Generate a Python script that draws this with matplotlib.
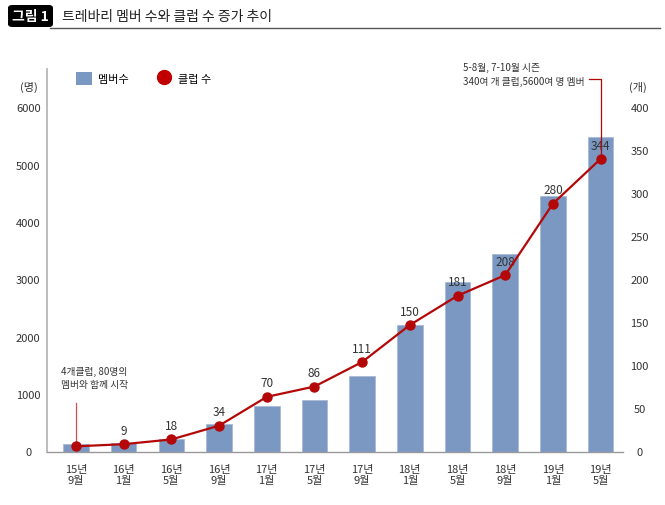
import matplotlib
matplotlib.use("Agg")
import matplotlib.pyplot as plt
from matplotlib.lines import Line2D
from matplotlib.patches import FancyBboxPatch, Patch

plt.rcParams["font.family"] = ["Liberation Sans Narrow", "Noto Sans CJK KR", "DejaVu Sans"]

# ------------------------------------------------------------------ data
periods = ["15년\n9월", "16년\n1월", "16년\n5월", "16년\n9월", "17년\n1월", "17년\n5월",
           "17년\n9월", "18년\n1월", "18년\n5월", "18년\n9월", "19년\n1월", "19년\n5월"]
members = [130, 140, 220, 475, 785, 890, 1310, 2210, 2950, 3440, 4460, 5490]
clubs = [6, 8.5, 14, 30, 63.5, 75.5, 104, 147, 181, 205, 288, 340]
club_labels = ["", "9", "18", "34", "70", "86", "111", "150", "181", "208", "280", "344"]
left_ticks = [0, 1000, 2000, 3000, 4000, 5000, 6000]
right_ticks = [0, 50, 100, 150, 200, 250, 300, 350, 400]

BAR = "#7b98c2"
RED = "#b40808"
W, H = 665, 506

fig = plt.figure(figsize=(W / 100, H / 100), dpi=100)
ax = fig.add_axes([47 / W, 1 - 452.5 / H, (623 - 47) / W, (452.5 - 70) / H])
ax2 = ax.twinx()

x = list(range(len(periods)))
ax.bar(x, members, width=0.535, color=BAR, edgecolor="#a8bad6", linewidth=0.6, zorder=2)
ax.set_xlim(-0.608, 11.47)
ax.set_ylim(0, 6667)
ax2.set_ylim(0, 444.5)

ax2.plot(x, clubs, color=RED, lw=1.6, marker="o", ms=6.5, zorder=4)
for xi, yi, lab in zip(x, clubs, club_labels):
    if lab:
        ax2.annotate(lab, (xi, yi), xytext=(0, 10), textcoords="offset points",
                     ha="center", va="center", fontsize=8.5, color="#333333")

# spines / ticks
for a in (ax, ax2):
    for s in ("top", "right"):
        a.spines[s].set_visible(False)
ax2.spines["left"].set_visible(False)
ax2.spines["bottom"].set_visible(False)
ax.spines["left"].set_color("#b8b8b8")
ax.spines["left"].set_linewidth(1.3)
ax.spines["bottom"].set_color("#9a9a9a")
ax.spines["bottom"].set_linewidth(1.0)

ax.set_yticks(left_ticks)
ax.set_yticklabels([str(t) for t in left_ticks])
ax.tick_params(axis="y", length=0, pad=13.5, labelsize=8, labelcolor="#333333")
for t in ax.get_yticklabels():
    t.set_horizontalalignment("center")
ax2.set_yticks(right_ticks)
ax2.set_yticklabels([str(t) for t in right_ticks])
ax2.tick_params(axis="y", length=0, pad=12, labelsize=8, labelcolor="#333333")
for t in ax2.get_yticklabels():
    t.set_horizontalalignment("center")
ax.set_xticks(x)
ax.set_xticklabels(periods, linespacing=1.15)
ax.tick_params(axis="x", length=0, pad=9, labelsize=8, labelcolor="#333333")

# unit labels
fig.text(29 / W, 1 - 87 / H, "(명)", ha="center", va="center", fontsize=8, color="#333333")
fig.text(638 / W, 1 - 87 / H, "(개)", ha="center", va="center", fontsize=8, color="#333333")

# legend
handles = [Patch(facecolor=BAR, edgecolor="none"),
           Line2D([], [], ls="", marker="o", ms=10, color="#c00000")]
ax.legend(handles, ["멤버수", "클럽 수"], loc="center left", ncol=2, frameon=False,
          bbox_to_anchor=(76 / W, 1 - 79.5 / H), bbox_transform=fig.transFigure,
          fontsize=8, handlelength=1.45, handleheight=1.35, handletextpad=0.55,
          columnspacing=2.4, borderpad=0, borderaxespad=0)

# annotations
ax2.plot([0, 0], [clubs[0], 56], color="#d05050", lw=0.9, zorder=3)
ax2.text(-0.31, 86, "4개클럽, 80명의\n멤버와 함께 시작", ha="left", va="center",
         fontsize=7, color="#333333", linespacing=1.45)
ax2.plot([10.76, 11, 11], [433, 433, clubs[-1]], color=RED, lw=0.9, zorder=3,
         clip_on=False)
ax2.text(10.67, 439, "5-8월, 7-10월 시즌\n340여 개 클럽,5600여 명 멤버", ha="right",
         va="center", fontsize=7, color="#333333", linespacing=1.45,
         multialignment="left")

# title bar
fig.patches.append(FancyBboxPatch((8 / W, 1 - 28 / H), 45 / W, 22 / H,
                                  boxstyle="round,pad=0,rounding_size=0.006",
                                  transform=fig.transFigure, facecolor="black",
                                  edgecolor="none"))
fig.text(30 / W, 1 - 17 / H, "그림 1", ha="center", va="center", fontsize=10,
         fontweight="bold", color="white")
fig.text(62 / W, 1 - 16.5 / H, "트레바리 멤버 수와 클럽 수 증가 추이", ha="left",
         va="center", fontsize=10, color="#222222")
fig.add_artist(Line2D([50 / W, 660 / W], [1 - 28.5 / H, 1 - 28.5 / H],
                      transform=fig.transFigure, color="#555555", lw=1))

fig.savefig("out.png", dpi=100)
